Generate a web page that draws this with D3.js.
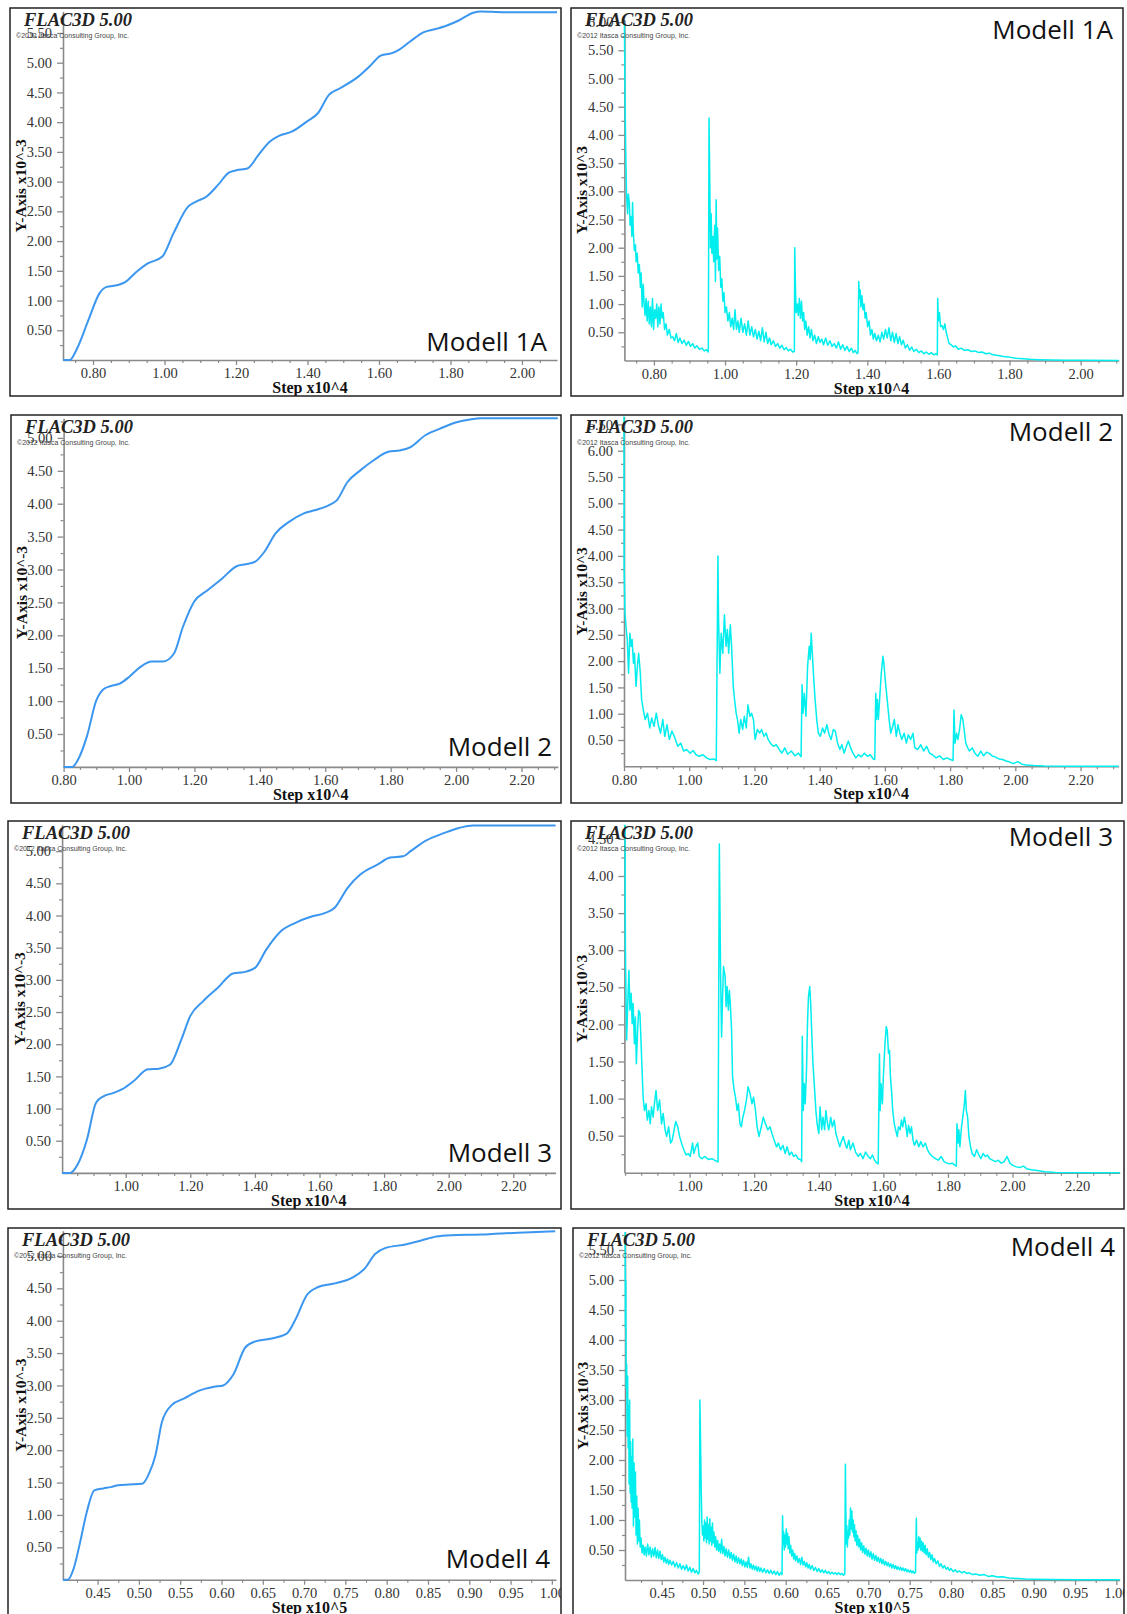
<!DOCTYPE html>
<html><head><meta charset="utf-8">
<script src="https://cdn.jsdelivr.net/npm/d3@7"></script>
<style>
html,body{margin:0;padding:0;background:#fff;}
svg{display:block;}
</style></head>
<body>
<svg id="c" width="1127" height="1614"></svg>
<script>
// ---------- DATA (step, value) ----------
const m1aDisp = [[0.716,0],[0.735,0],[0.755,0.19],[0.787,0.67],[0.818,1.12],[0.838,1.23],[0.869,1.26],[0.890,1.31],[0.921,1.48],[0.952,1.62],[0.994,1.74],[1.025,2.13],[1.066,2.58],[1.087,2.66],[1.118,2.75],[1.149,2.94],[1.180,3.15],[1.201,3.19],[1.232,3.22],[1.263,3.45],[1.294,3.67],[1.320,3.77],[1.356,3.84],[1.398,4.01],[1.429,4.15],[1.460,4.46],[1.491,4.57],[1.543,4.77],[1.574,4.94],[1.605,5.12],[1.636,5.16],[1.657,5.22],[1.688,5.36],[1.724,5.51],[1.761,5.57],[1.792,5.63],[1.823,5.71],[1.864,5.84],[1.885,5.86],[1.947,5.85],[2.098,5.85]];

const m1aUnbal = [[0.717,6.00],[0.719,4.60],[0.721,3.60],[0.723,2.95],[0.726,2.60],[0.728,2.95],[0.731,2.80],[0.733,2.40],[0.736,2.55],[0.738,2.20],[0.740,2.80],[0.742,2.30],[0.745,1.95],[0.748,2.05],[0.750,1.75],[0.753,1.90],[0.756,1.55],[0.759,1.70],[0.762,1.30],[0.764,1.55],[0.767,0.95],[0.770,1.35],[0.772,1.05],[0.775,0.80],[0.778,1.10],[0.781,0.70],[0.784,1.05],[0.787,0.65],[0.790,0.95],[0.793,0.60],[0.796,1.10],[0.799,0.55],[0.802,0.90],[0.805,0.75],[0.808,1.00],[0.811,0.60],[0.814,0.95],[0.817,0.65],[0.820,1.00],[0.823,0.75],[0.826,0.85],[0.830,0.55],[0.834,0.65],[0.838,0.45],[0.843,0.55],[0.848,0.40],[0.853,0.42],[0.858,0.35],[0.863,0.48],[0.868,0.32],[0.873,0.40],[0.879,0.30],[0.885,0.36],[0.891,0.27],[0.897,0.34],[0.903,0.25],[0.909,0.30],[0.915,0.22],[0.921,0.26],[0.928,0.20],[0.935,0.22],[0.942,0.17],[0.948,0.19],[0.953,0.15],
[0.955,4.30],[0.957,3.20],[0.959,2.00],[0.961,2.60],[0.963,1.90],[0.966,2.20],[0.968,1.75],[0.971,2.40],[0.973,1.40],[0.975,2.85],[0.977,1.80],[0.979,2.35],[0.982,1.60],[0.985,1.85],[0.988,1.30],[0.991,1.45],[0.994,1.05],[0.997,1.20],[1.000,0.85],[1.004,0.95],[1.008,0.70],[1.012,0.85],[1.016,0.60],[1.020,0.75],[1.024,0.55],[1.028,0.90],[1.032,0.55],[1.036,0.70],[1.040,0.50],[1.045,0.75],[1.050,0.50],[1.055,0.65],[1.060,0.45],[1.065,0.70],[1.070,0.45],[1.075,0.60],[1.080,0.42],[1.085,0.55],[1.090,0.38],[1.095,0.52],[1.100,0.35],[1.105,0.58],[1.110,0.33],[1.115,0.50],[1.120,0.30],[1.125,0.40],[1.130,0.28],[1.136,0.35],[1.142,0.25],[1.148,0.30],[1.154,0.22],[1.160,0.27],[1.166,0.19],[1.172,0.23],[1.178,0.17],[1.184,0.20],[1.190,0.15],[1.195,0.16],
[1.196,2.00],[1.198,1.30],[1.200,0.85],[1.203,1.00],[1.206,0.80],[1.209,1.10],[1.212,0.75],[1.215,1.05],[1.218,0.70],[1.221,0.85],[1.224,0.55],[1.227,0.70],[1.231,0.45],[1.235,0.60],[1.239,0.40],[1.243,0.55],[1.247,0.35],[1.252,0.45],[1.257,0.30],[1.262,0.42],[1.267,0.32],[1.272,0.38],[1.277,0.28],[1.283,0.40],[1.289,0.27],[1.295,0.35],[1.301,0.25],[1.307,0.30],[1.313,0.22],[1.319,0.33],[1.325,0.20],[1.331,0.28],[1.337,0.18],[1.343,0.25],[1.349,0.16],[1.355,0.22],[1.361,0.14],[1.366,0.18],[1.371,0.12],[1.374,0.14],
[1.376,1.40],[1.378,1.10],[1.380,1.25],[1.382,0.95],[1.385,1.15],[1.388,0.90],[1.391,1.00],[1.394,0.75],[1.397,0.85],[1.401,0.60],[1.405,0.70],[1.409,0.45],[1.413,0.55],[1.417,0.38],[1.421,0.48],[1.426,0.35],[1.431,0.45],[1.436,0.33],[1.441,0.50],[1.446,0.38],[1.451,0.55],[1.456,0.40],[1.461,0.58],[1.466,0.35],[1.471,0.50],[1.476,0.32],[1.481,0.48],[1.486,0.30],[1.491,0.42],[1.496,0.28],[1.501,0.36],[1.507,0.22],[1.513,0.28],[1.519,0.18],[1.525,0.24],[1.531,0.16],[1.538,0.20],[1.545,0.14],[1.552,0.17],[1.559,0.12],[1.566,0.15],[1.573,0.11],[1.580,0.14],[1.587,0.10],[1.593,0.12],[1.597,0.10],
[1.598,1.10],[1.600,0.70],[1.603,0.85],[1.606,0.60],[1.610,0.62],[1.614,0.55],[1.618,0.65],[1.622,0.50],[1.626,0.40],[1.630,0.30],[1.636,0.28],[1.642,0.24],[1.648,0.26],[1.656,0.20],[1.664,0.22],[1.673,0.18],[1.683,0.19],[1.693,0.16],[1.703,0.17],[1.713,0.14],[1.723,0.15],[1.733,0.12],[1.743,0.13],[1.753,0.10],[1.768,0.09],[1.783,0.07],[1.798,0.06],[1.818,0.04],[1.838,0.03],[1.858,0.02],[1.878,0.015],[1.918,0.01],[1.958,0.005],[2.000,0.003],[2.107,0.002]];

const m2Disp = [[0.800,0],[0.826,0],[0.843,0.10],[0.871,0.46],[0.900,1.01],[0.922,1.18],[0.945,1.23],[0.973,1.27],[1.001,1.37],[1.035,1.52],[1.069,1.60],[1.103,1.60],[1.137,1.72],[1.165,2.13],[1.199,2.51],[1.239,2.68],[1.284,2.86],[1.329,3.05],[1.357,3.08],[1.386,3.12],[1.414,3.27],[1.448,3.55],[1.488,3.72],[1.533,3.85],[1.567,3.90],[1.612,3.98],[1.635,4.05],[1.668,4.33],[1.708,4.51],[1.748,4.66],[1.793,4.79],[1.827,4.81],[1.861,4.86],[1.906,5.04],[1.951,5.14],[1.996,5.23],[2.042,5.28],[2.076,5.30],[2.311,5.30]];

const m2Unbal = [[0.800,6.65],[0.8005,3.80],[0.803,2.92],[0.807,2.60],[0.810,2.41],[0.814,1.77],[0.818,2.53],[0.822,2.28],[0.825,2.41],[0.829,1.96],[0.832,2.15],[0.837,1.52],[0.841,1.90],[0.845,2.15],[0.850,1.77],[0.854,1.27],[0.859,1.08],[0.865,0.89],[0.872,1.01],[0.879,0.73],[0.885,0.92],[0.892,0.76],[0.899,1.01],[0.905,0.79],[0.912,0.63],[0.919,0.89],[0.925,0.57],[0.932,0.79],[0.939,0.51],[0.947,0.67],[0.956,0.54],[0.965,0.38],[0.974,0.44],[0.983,0.29],[0.992,0.32],[1.003,0.25],[1.012,0.30],[1.021,0.22],[1.031,0.19],[1.042,0.22],[1.053,0.16],[1.064,0.13],[1.075,0.14],[1.083,0.11],
[1.088,4.00],[1.090,2.79],[1.094,1.77],[1.098,2.53],[1.103,2.15],[1.108,2.88],[1.113,2.28],[1.117,2.60],[1.121,2.15],[1.126,2.69],[1.130,2.28],[1.135,1.52],[1.139,1.27],[1.144,1.01],[1.148,0.89],[1.153,0.63],[1.158,0.89],[1.164,0.70],[1.169,0.95],[1.175,0.73],[1.180,1.17],[1.186,0.95],[1.191,1.01],[1.197,0.89],[1.202,0.51],[1.209,0.70],[1.216,0.63],[1.222,0.70],[1.229,0.57],[1.236,0.63],[1.242,0.51],[1.249,0.44],[1.258,0.38],[1.267,0.41],[1.276,0.32],[1.284,0.25],[1.293,0.35],[1.302,0.23],[1.313,0.29],[1.324,0.20],[1.335,0.25],[1.343,0.18],
[1.346,1.55],[1.349,1.01],[1.353,1.39],[1.358,0.95],[1.363,1.90],[1.368,2.28],[1.371,2.03],[1.374,2.53],[1.378,2.09],[1.382,1.65],[1.386,1.27],[1.391,0.89],[1.396,0.63],[1.402,0.57],[1.409,0.73],[1.415,0.63],[1.422,0.79],[1.429,0.60],[1.435,0.51],[1.442,0.70],[1.448,0.67],[1.455,0.44],[1.462,0.32],[1.468,0.41],[1.475,0.25],[1.482,0.38],[1.488,0.48],[1.495,0.35],[1.502,0.25],[1.511,0.16],[1.519,0.22],[1.528,0.18],[1.537,0.25],[1.546,0.19],[1.555,0.22],[1.564,0.14],[1.569,0.13],
[1.572,1.39],[1.574,0.89],[1.577,1.27],[1.580,0.89],[1.585,1.39],[1.589,1.77],[1.594,2.09],[1.597,1.96],[1.601,1.65],[1.607,1.27],[1.613,0.89],[1.618,0.63],[1.624,0.76],[1.629,0.89],[1.635,0.57],[1.640,0.79],[1.646,0.63],[1.652,0.51],[1.659,0.63],[1.666,0.44],[1.672,0.60],[1.679,0.51],[1.686,0.63],[1.692,0.35],[1.701,0.32],[1.710,0.41],[1.719,0.29],[1.728,0.38],[1.737,0.25],[1.746,0.22],[1.757,0.16],[1.768,0.20],[1.779,0.13],[1.790,0.16],[1.801,0.13],[1.809,0.11],
[1.812,1.07],[1.815,0.44],[1.820,0.63],[1.824,0.51],[1.829,0.70],[1.834,0.98],[1.839,0.89],[1.843,0.70],[1.848,0.44],[1.852,0.38],[1.859,0.29],[1.868,0.35],[1.876,0.25],[1.885,0.19],[1.894,0.29],[1.903,0.20],[1.912,0.27],[1.921,0.24],[1.930,0.19],[1.938,0.18],[1.950,0.14],[1.961,0.13],[1.972,0.10],[1.983,0.08],[1.994,0.05],[2.007,0.09],[2.020,0.04],[2.034,0.025],[2.056,0.013],[2.089,0.006],[2.156,0.002],[2.317,0.001]];

const m3Disp = [[0.803,0],[0.828,0],[0.851,0.13],[0.880,0.52],[0.908,1.09],[0.931,1.19],[0.960,1.24],[0.989,1.30],[1.023,1.42],[1.069,1.61],[1.103,1.62],[1.137,1.68],[1.172,2.07],[1.200,2.44],[1.240,2.67],[1.286,2.88],[1.332,3.10],[1.366,3.12],[1.401,3.19],[1.435,3.47],[1.481,3.76],[1.527,3.89],[1.573,3.98],[1.618,4.04],[1.647,4.12],[1.687,4.43],[1.727,4.64],[1.779,4.79],[1.819,4.90],[1.859,4.92],[1.882,5.00],[1.928,5.16],[1.985,5.28],[2.031,5.36],[2.076,5.40],[2.331,5.40]];

const m3Unbal = [[0.800,4.69],[0.801,3.09],[0.803,2.37],[0.805,1.79],[0.809,2.37],[0.812,2.73],[0.815,2.19],[0.819,2.42],[0.822,2.01],[0.825,2.28],[0.829,1.74],[0.832,2.10],[0.835,1.47],[0.839,1.92],[0.842,2.19],[0.846,2.15],[0.849,1.83],[0.852,1.47],[0.856,1.02],[0.860,0.84],[0.865,0.93],[0.869,0.71],[0.874,0.84],[0.878,0.66],[0.882,0.89],[0.887,0.75],[0.891,0.93],[0.896,1.11],[0.901,0.84],[0.907,0.98],[0.913,0.66],[0.918,0.80],[0.924,0.58],[0.929,0.49],[0.935,0.62],[0.941,0.40],[0.946,0.44],[0.952,0.58],[0.957,0.69],[0.963,0.62],[0.969,0.49],[0.975,0.40],[0.982,0.31],[0.989,0.24],[0.996,0.26],[1.002,0.22],[1.009,0.40],[1.013,0.26],[1.019,0.35],[1.025,0.40],[1.030,0.22],[1.038,0.19],[1.047,0.22],[1.058,0.18],[1.069,0.19],[1.081,0.16],[1.088,0.15],
[1.092,4.43],[1.094,3.54],[1.096,2.64],[1.099,1.83],[1.102,2.37],[1.105,2.78],[1.110,2.64],[1.113,2.24],[1.116,2.51],[1.120,2.19],[1.123,2.46],[1.126,2.28],[1.130,1.92],[1.133,1.29],[1.138,1.11],[1.142,1.02],[1.147,0.84],[1.151,0.93],[1.156,0.66],[1.160,0.62],[1.165,0.75],[1.170,0.84],[1.176,0.98],[1.181,1.16],[1.187,1.07],[1.193,0.93],[1.198,1.02],[1.204,0.84],[1.209,0.62],[1.215,0.49],[1.222,0.62],[1.228,0.75],[1.235,0.66],[1.242,0.58],[1.249,0.62],[1.255,0.53],[1.262,0.44],[1.269,0.35],[1.275,0.40],[1.282,0.31],[1.289,0.37],[1.296,0.26],[1.302,0.35],[1.309,0.24],[1.316,0.28],[1.322,0.22],[1.329,0.24],[1.336,0.19],[1.343,0.18],[1.347,0.15],
[1.349,1.84],[1.352,0.84],[1.355,1.20],[1.358,0.93],[1.362,1.38],[1.365,2.01],[1.368,2.37],[1.372,2.51],[1.375,2.28],[1.378,1.92],[1.382,1.47],[1.386,1.20],[1.391,0.84],[1.395,0.66],[1.400,0.53],[1.404,0.89],[1.409,0.58],[1.413,0.75],[1.418,0.58],[1.422,0.84],[1.427,0.66],[1.431,0.58],[1.437,0.75],[1.442,0.62],[1.448,0.71],[1.453,0.53],[1.459,0.44],[1.465,0.35],[1.470,0.42],[1.476,0.49],[1.481,0.40],[1.487,0.33],[1.493,0.44],[1.498,0.31],[1.506,0.40],[1.514,0.28],[1.522,0.22],[1.529,0.26],[1.537,0.19],[1.545,0.28],[1.553,0.22],[1.560,0.19],[1.566,0.24],[1.573,0.17],[1.580,0.13],[1.584,0.12],
[1.588,1.60],[1.590,0.84],[1.593,1.20],[1.597,0.93],[1.600,1.29],[1.605,1.74],[1.609,1.97],[1.612,1.92],[1.616,1.61],[1.619,1.65],[1.622,1.29],[1.626,1.07],[1.629,0.84],[1.634,0.66],[1.638,0.58],[1.643,0.49],[1.647,0.62],[1.652,0.58],[1.656,0.71],[1.660,0.62],[1.665,0.75],[1.669,0.66],[1.674,0.49],[1.678,0.64],[1.683,0.53],[1.687,0.62],[1.692,0.44],[1.696,0.37],[1.703,0.44],[1.710,0.35],[1.716,0.42],[1.723,0.35],[1.730,0.40],[1.737,0.31],[1.743,0.26],[1.752,0.22],[1.761,0.19],[1.770,0.17],[1.779,0.22],[1.788,0.15],[1.797,0.13],[1.804,0.12],[1.813,0.13],[1.822,0.10],[1.826,0.09],
[1.828,0.66],[1.831,0.40],[1.834,0.58],[1.837,0.35],[1.842,0.62],[1.846,0.75],[1.851,0.93],[1.854,1.11],[1.857,0.84],[1.861,0.75],[1.865,0.49],[1.870,0.35],[1.875,0.26],[1.882,0.22],[1.889,0.31],[1.896,0.24],[1.902,0.19],[1.909,0.26],[1.916,0.22],[1.922,0.24],[1.929,0.19],[1.938,0.17],[1.947,0.15],[1.956,0.17],[1.965,0.13],[1.974,0.15],[1.983,0.22],[1.992,0.13],[2.001,0.10],[2.012,0.08],[2.023,0.07],[2.034,0.09],[2.046,0.05],[2.059,0.04],[2.077,0.03],[2.099,0.015],[2.133,0.005],[2.332,0.002]];

const m4Disp = [[0.408,0],[0.414,0],[0.421,0.17],[0.428,0.53],[0.437,1.05],[0.446,1.38],[0.457,1.41],[0.466,1.43],[0.475,1.46],[0.488,1.47],[0.504,1.48],[0.513,1.66],[0.520,1.92],[0.528,2.44],[0.540,2.70],[0.555,2.80],[0.573,2.92],[0.591,2.98],[0.602,3.00],[0.614,3.16],[0.629,3.59],[0.641,3.68],[0.659,3.72],[0.679,3.80],[0.690,4.03],[0.703,4.39],[0.717,4.52],[0.735,4.57],[0.759,4.67],[0.773,4.80],[0.786,5.03],[0.798,5.12],[0.824,5.18],[0.842,5.24],[0.860,5.30],[0.878,5.32],[0.914,5.33],[0.959,5.36],[1.004,5.38]];

const m4Unbal = [[0.4058,5.80],[0.4062,4.20],[0.4066,5.00],[0.4070,3.20],[0.4076,3.60],[0.4082,2.40],[0.4088,3.40],[0.4094,2.20],[0.4100,2.90],[0.4106,1.60],[0.4112,3.00],[0.4118,1.45],[0.4124,2.30],[0.4130,1.30],[0.4136,2.05],[0.4142,1.20],[0.4150,2.35],[0.4158,0.90],[0.4166,1.95],[0.4174,1.05],[0.4182,1.80],[0.4190,0.75],[0.4198,1.40],[0.4206,0.60],[0.4214,1.20],[0.4222,0.65],[0.4230,1.00],[0.4240,0.55],[0.4250,0.70],[0.4262,0.45],[0.4275,0.58],[0.4288,0.42],[0.4300,0.55],[0.4315,0.40],[0.4330,0.60],[0.4345,0.42],[0.4360,0.55],[0.4375,0.38],[0.4390,0.52],[0.4405,0.40],[0.4420,0.54],[0.4435,0.37],[0.4450,0.50],[0.4465,0.36],[0.4480,0.48],[0.4495,0.34],[0.4510,0.42],[0.4525,0.30],[0.4540,0.38],[0.4555,0.28],[0.4570,0.35],[0.4585,0.26],[0.4600,0.33],[0.4620,0.25],[0.4640,0.31],[0.4660,0.22],[0.4680,0.29],[0.4700,0.20],[0.4720,0.27],[0.4740,0.18],[0.4760,0.24],[0.4780,0.17],[0.4800,0.25],[0.4820,0.15],[0.4840,0.21],[0.4860,0.13],[0.4880,0.19],[0.4900,0.12],[0.4920,0.16],[0.4940,0.10],[0.4955,0.13],
[0.4962,3.00],[0.4970,2.30],[0.4978,1.50],[0.4986,0.95],[0.4994,0.75],[0.5002,0.90],[0.5010,0.65],[0.5018,1.00],[0.5026,0.70],[0.5034,0.95],[0.5042,0.62],[0.5050,1.05],[0.5058,0.68],[0.5066,0.92],[0.5074,0.60],[0.5082,1.02],[0.5090,0.65],[0.5098,0.88],[0.5106,0.58],[0.5114,0.95],[0.5122,0.62],[0.5132,0.80],[0.5142,0.55],[0.5152,0.72],[0.5164,0.50],[0.5176,0.66],[0.5188,0.48],[0.5200,0.60],[0.5212,0.45],[0.5225,0.68],[0.5238,0.44],[0.5252,0.56],[0.5266,0.40],[0.5280,0.52],[0.5295,0.38],[0.5310,0.50],[0.5325,0.36],[0.5340,0.46],[0.5355,0.33],[0.5370,0.43],[0.5385,0.30],[0.5400,0.40],[0.5415,0.28],[0.5430,0.37],[0.5445,0.27],[0.5460,0.35],[0.5475,0.24],[0.5490,0.33],[0.5505,0.22],[0.5520,0.30],[0.5535,0.21],[0.5550,0.38],[0.5565,0.20],[0.5580,0.27],[0.5595,0.18],[0.5610,0.25],[0.5625,0.17],[0.5640,0.23],[0.5655,0.15],[0.5670,0.22],[0.5685,0.14],[0.5700,0.20],[0.5720,0.13],[0.5740,0.19],[0.5760,0.12],[0.5780,0.17],[0.5800,0.11],[0.5820,0.16],[0.5840,0.10],[0.5860,0.15],[0.5880,0.09],[0.5900,0.14],[0.5920,0.08],[0.5940,0.12],[0.5955,0.09],
[0.5962,1.07],[0.5968,0.60],[0.5975,0.80],[0.5982,0.50],[0.5990,0.75],[0.5998,0.55],[0.6006,0.85],[0.6014,0.60],[0.6022,0.78],[0.6030,0.52],[0.6040,0.72],[0.6050,0.45],[0.6060,0.58],[0.6072,0.40],[0.6084,0.50],[0.6096,0.35],[0.6108,0.44],[0.6120,0.32],[0.6135,0.40],[0.6150,0.29],[0.6165,0.36],[0.6180,0.26],[0.6195,0.38],[0.6210,0.25],[0.6225,0.31],[0.6240,0.22],[0.6255,0.29],[0.6270,0.20],[0.6285,0.26],[0.6300,0.18],[0.6320,0.24],[0.6340,0.16],[0.6360,0.21],[0.6380,0.14],[0.6400,0.19],[0.6420,0.13],[0.6440,0.17],[0.6460,0.12],[0.6480,0.16],[0.6500,0.11],[0.6520,0.14],[0.6540,0.10],[0.6560,0.13],[0.6580,0.10],[0.6600,0.12],[0.6620,0.09],[0.6640,0.12],[0.6660,0.09],[0.6680,0.11],[0.6700,0.08],[0.6715,0.10],
[0.6722,1.93],[0.6728,1.10],[0.6734,0.60],[0.6740,0.90],[0.6746,0.55],[0.6752,0.80],[0.6760,0.70],[0.6768,1.00],[0.6776,0.75],[0.6784,1.20],[0.6792,0.85],[0.6800,1.15],[0.6808,0.80],[0.6816,1.00],[0.6824,0.72],[0.6832,0.92],[0.6840,0.65],[0.6850,0.82],[0.6860,0.58],[0.6870,0.74],[0.6882,0.55],[0.6894,0.68],[0.6906,0.50],[0.6918,0.62],[0.6930,0.46],[0.6944,0.57],[0.6958,0.43],[0.6972,0.53],[0.6986,0.40],[0.7000,0.50],[0.7015,0.38],[0.7030,0.47],[0.7045,0.35],[0.7060,0.44],[0.7075,0.33],[0.7090,0.41],[0.7105,0.31],[0.7120,0.38],[0.7135,0.29],[0.7150,0.36],[0.7165,0.27],[0.7180,0.34],[0.7195,0.25],[0.7210,0.31],[0.7225,0.24],[0.7240,0.29],[0.7255,0.22],[0.7270,0.27],[0.7285,0.20],[0.7300,0.26],[0.7315,0.19],[0.7330,0.24],[0.7345,0.18],[0.7360,0.22],[0.7375,0.17],[0.7390,0.21],[0.7405,0.16],[0.7420,0.20],[0.7435,0.15],[0.7450,0.19],[0.7465,0.14],[0.7480,0.17],[0.7495,0.13],[0.7510,0.16],[0.7525,0.12],[0.7540,0.15],[0.7555,0.11],[0.7570,0.13],
[0.7580,1.03],[0.7586,0.45],[0.7592,0.62],[0.7600,0.50],[0.7608,0.72],[0.7616,0.55],[0.7624,0.70],[0.7632,0.50],[0.7642,0.65],[0.7652,0.48],[0.7662,0.62],[0.7674,0.45],[0.7686,0.58],[0.7698,0.42],[0.7712,0.52],[0.7726,0.38],[0.7740,0.46],[0.7755,0.34],[0.7770,0.42],[0.7785,0.30],[0.7800,0.36],[0.7820,0.27],[0.7840,0.32],[0.7860,0.23],[0.7880,0.27],[0.7900,0.20],[0.7920,0.24],[0.7940,0.18],[0.7960,0.21],[0.7980,0.16],[0.8000,0.19],[0.8025,0.14],[0.8050,0.17],[0.8075,0.13],[0.8100,0.15],[0.8130,0.12],[0.8160,0.14],[0.8190,0.11],[0.8220,0.12],[0.8260,0.09],[0.8300,0.10],[0.8350,0.08],[0.8400,0.09],[0.8450,0.06],[0.8500,0.07],[0.8560,0.05],[0.8620,0.055],[0.8700,0.035],[0.8800,0.025],[0.8900,0.015],[0.9000,0.012],[0.9200,0.008],[0.9500,0.006],[1.0040,0.005]];

// ---------- TICKS / LABELS ----------
const xTicks4 = [0.80,1.00,1.20,1.40,1.60,1.80,2.00];
const xTicks4b = [0.80,1.00,1.20,1.40,1.60,1.80,2.00,2.20];
const xTicks4c = [1.00,1.20,1.40,1.60,1.80,2.00,2.20];
const xTicks5 = [0.45,0.50,0.55,0.60,0.65,0.70,0.75,0.80,0.85,0.90,0.95,1.00];
const yTicks55 = [0.5,1.0,1.5,2.0,2.5,3.0,3.5,4.0,4.5,5.0,5.5];
const yTicks60 = [0.5,1.0,1.5,2.0,2.5,3.0,3.5,4.0,4.5,5.0,5.5,6.0];
const yTicks65 = [0.5,1.0,1.5,2.0,2.5,3.0,3.5,4.0,4.5,5.0,5.5,6.0,6.5];
const yTicks50 = [0.5,1.0,1.5,2.0,2.5,3.0,3.5,4.0,4.5,5.0];
const yTicks45 = [0.5,1.0,1.5,2.0,2.5,3.0,3.5,4.0,4.5];
const modelNames = ["Modell 1A","Modell 1A","Modell 2","Modell 2","Modell 3","Modell 3","Modell 4","Modell 4"];
const titleText = "FLAC3D 5.00";
const copyText = "\u00A92012 Itasca Consulting Group, Inc.";
const yLabelDisp = "Y-Axis x10^-3";
const yLabelUnbal = "Y-Axis x10^3";

// ---------- LAYOUT ----------
const panels = [
 {box:[10,8,561,396], left:63, right:557, bottom:360, xd:[0.716,2.098], yTop:5.86, ppu:59.46, data:m1aDisp, kind:"disp", xt:xTicks4, xm:0.05, yt:yTicks55, xl:"Step x10^4", name:0, nx:547, ny:351},
 {box:[571,8,1123,396], left:624.4, right:1118.7, bottom:360.5, xd:[0.717,2.107], yTop:6.04, ppu:56.4, data:m1aUnbal, kind:"unbal", xt:xTicks4, xm:0.05, yt:yTicks60, xl:"Step x10^4", name:1, nx:1113, ny:39},
 {box:[11,415,561,803], left:63.6, right:557.8, bottom:766.9, xd:[0.80,2.311], yTop:5.30, ppu:65.8, data:m2Disp, kind:"disp", xt:xTicks4b, xm:0.05, yt:yTicks50, xl:"Step x10^4", name:2, nx:552, ny:756},
 {box:[571,415,1122,803], left:624, right:1118.7, bottom:766.3, xd:[0.80,2.317], yTop:6.65, ppu:52.6, data:m2Unbal, kind:"unbal", xt:xTicks4b, xm:0.05, yt:yTicks65, xl:"Step x10^4", name:3, nx:1113, ny:441},
 {box:[8,821,561,1209], left:62.1, right:555.6, bottom:1172.9, xd:[0.803,2.331], yTop:5.41, ppu:64.35, data:m3Disp, kind:"disp", xt:xTicks4c, xm:0.05, yt:yTicks50, xl:"Step x10^4", name:4, nx:552, ny:1162},
 {box:[571,821,1124,1209], left:624.4, right:1119.7, bottom:1172.8, xd:[0.798,2.332], yTop:4.69, ppu:74.2, data:m3Unbal, kind:"unbal", xt:xTicks4c, xm:0.05, yt:yTicks45, xl:"Step x10^4", name:5, nx:1113, ny:846},
 {box:[8,1228,561,1660], left:62.9, right:556, bottom:1579.7, xd:[0.408,1.005], yTop:5.39, ppu:64.75, data:m4Disp, kind:"disp", xt:xTicks5, xm:0.025, yt:yTicks50, xl:"Step x10^5", name:6, nx:550, ny:1568},
 {box:[573,1228,1124,1660], left:625, right:1119.7, bottom:1580, xd:[0.4056,1.004], yTop:5.81, ppu:60, data:m4Unbal, kind:"unbal", xt:xTicks5, xm:0.025, yt:yTicks55, xl:"Step x10^5", name:7, nx:1115, ny:1256}
];

const svg = d3.select('#c');
const defs = svg.append('defs');
const fmt = d3.format('.2f');
const AX = '#8a8a8a';

panels.forEach((p,i)=>{
  const [bx0,by0,bx1,by1] = p.box;
  defs.append('clipPath').attr('id','clip'+i).append('rect')
    .attr('x',bx0).attr('y',by0).attr('width',bx1-bx0).attr('height',by1-by0);
  const g = svg.append('g').attr('clip-path',`url(#clip${i})`);
  g.append('rect').attr('x',bx0).attr('y',by0).attr('width',bx1-bx0).attr('height',by1-by0).attr('fill','#fff');

  const x = d3.scaleLinear().domain(p.xd).range([p.left,p.right]);
  const y = d3.scaleLinear().domain([0,p.yTop]).range([p.bottom,p.bottom-p.yTop*p.ppu]);

  // minor ticks
  const xMinor = d3.range(Math.ceil(p.xd[0]/p.xm-1e-6)*p.xm, p.xd[1]+1e-9, p.xm)
      .filter(v=>!p.xt.some(t=>Math.abs(t-v)<1e-6) && v>p.xd[0]+1e-6);
  const yMinor = d3.range(0.25, p.yTop, 0.5);
  g.append('g').attr('transform',`translate(0,${p.bottom})`)
    .call(d3.axisBottom(x).tickValues(xMinor).tickSize(3).tickFormat(''))
    .call(s=>{s.select('.domain').remove(); s.selectAll('line').attr('stroke',AX).attr('stroke-width',1.2);});
  g.append('g').attr('transform',`translate(${p.left},0)`)
    .call(d3.axisLeft(y).tickValues(yMinor).tickSize(3).tickFormat(''))
    .call(s=>{s.select('.domain').remove(); s.selectAll('line').attr('stroke',AX).attr('stroke-width',1.2);});

  // major axes
  const xa = g.append('g').attr('transform',`translate(0,${p.bottom})`)
    .call(d3.axisBottom(x).tickValues(p.xt).tickFormat(fmt).tickSize(5).tickSizeOuter(0).tickPadding(3));
  const ya = g.append('g').attr('transform',`translate(${p.left},0)`)
    .call(d3.axisLeft(y).tickValues(p.yt).tickFormat(fmt).tickSize(6).tickSizeOuter(0).tickPadding(5));
  [xa,ya].forEach(a=>{
    a.select('.domain').attr('stroke',AX).attr('stroke-width',1.6);
    a.selectAll('.tick line').attr('stroke',AX).attr('stroke-width',1.3);
    a.selectAll('.tick text').attr('fill','#333').attr('font-family','"Liberation Serif", serif').attr('font-size',14.5);
  });

  // data line
  const line = d3.line().x(d=>x(d[0])).y(d=>y(d[1]))
     .curve(p.kind==='disp' ? d3.curveMonotoneX : d3.curveLinear);
  g.append('path').datum(p.data).attr('d',line).attr('fill','none')
    .attr('stroke', p.kind==='disp' ? '#3b96ef' : '#00eeee')
    .attr('stroke-width', p.kind==='disp' ? 2 : 1.5)
    .attr('stroke-linejoin','round');

  // header texts
  g.append('text').attr('x',bx0+14).attr('y',by0+18).text(titleText)
    .attr('font-family','"Liberation Serif", serif').attr('font-weight','bold').attr('font-style','italic')
    .attr('font-size',18.5).attr('fill','#222');
  g.append('text').attr('x',bx0+6).attr('y',by0+29.5).text(copyText)
    .attr('font-family','"Liberation Sans", Arial, sans-serif').attr('font-size',7).attr('fill','#444');

  // axis titles
  const yMid = (p.bottom + y(p.yTop))/2;
  g.append('text').attr('transform',`translate(${p.left-37},${yMid}) rotate(-90)`)
    .attr('text-anchor','middle').text(p.kind==='disp'?yLabelDisp:yLabelUnbal)
    .attr('font-family','"Liberation Serif", serif').attr('font-weight','bold').attr('font-size',15.5).attr('fill','#111');
  g.append('text').attr('x',(p.left+p.right)/2).attr('y',p.bottom+33).attr('text-anchor','middle').text(p.xl)
    .attr('font-family','"Liberation Serif", serif').attr('font-weight','bold').attr('font-size',16).attr('fill','#111');

  // model label
  g.append('text').attr('x',p.nx).attr('y',p.ny).attr('text-anchor','end').text(modelNames[p.name])
    .attr('font-family','"Open Sans", sans-serif').attr('font-size',26).attr('fill','#111');

  // border
  svg.append('rect').attr('x',bx0).attr('y',by0).attr('width',bx1-bx0).attr('height',by1-by0)
    .attr('fill','none').attr('stroke','#222').attr('stroke-width',1.5);
});
</script>
</body></html>
